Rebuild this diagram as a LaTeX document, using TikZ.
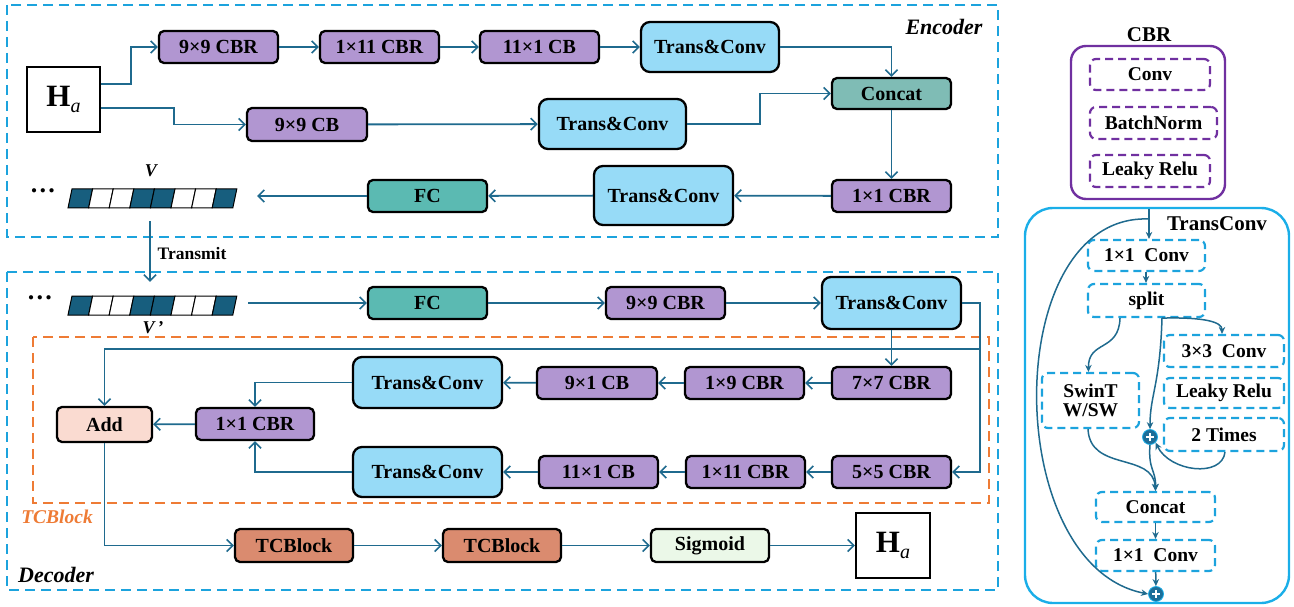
\documentclass[tikz,border=0pt]{standalone}
\usepackage{fontspec}
\setmainfont{Liberation Serif}
\usetikzlibrary{arrows.meta,calc}
\definecolor{lc}{HTML}{1F6A8E}
\definecolor{cpurple}{HTML}{B196D1}
\definecolor{cblue}{HTML}{97DBF7}
\definecolor{cconcat}{HTML}{7FBCB5}
\definecolor{cfc}{HTML}{5BBAB2}
\definecolor{cadd}{HTML}{FADBD1}
\definecolor{ctcb}{HTML}{DA8B6F}
\definecolor{csig}{HTML}{EBF8E8}
\definecolor{cdash}{HTML}{1CA3DD}
\definecolor{corange}{HTML}{EE7B35}
\definecolor{vd}{HTML}{175E7E}
\definecolor{cpur}{HTML}{7030A0}
\definecolor{cpanel}{HTML}{1AAEE8}
\definecolor{pc}{HTML}{1C6E99}
\begin{document}
\begin{tikzpicture}[x=1pt,y=-1pt,
  box/.style={draw=black, line width=2.3pt, rounded corners=5pt, inner sep=0pt,
    font=\bfseries\fontsize{20}{22}\selectfont},
  cbr/.style={box, fill=cpurple, minimum width=119, minimum height=32},
  tcv/.style={box, fill=cblue, rounded corners=9pt},
  arr/.style={draw=lc, line width=1.8pt, -{Straight Barb[length=6pt,width=12pt,line width=1.6pt]}},
  sarr/.style={draw=lc, line width=1.5pt, -{Stealth[length=7pt,width=6.5pt]}},
  bdash/.style={draw=cdash, line width=2.4pt, dash pattern=on 10pt off 6pt},
  odash/.style={draw=corange, line width=2.4pt, dash pattern=on 10pt off 6pt},
  dbox/.style={draw=cdash, line width=2.2pt, dash pattern=on 8pt off 5pt, rounded corners=6pt,
    inner sep=0pt, font=\bfseries\fontsize{19.5}{21}\selectfont},
  pbox/.style={draw=cpur, line width=2.2pt, dash pattern=on 8pt off 5pt, rounded corners=6pt,
    inner sep=0pt, font=\bfseries\fontsize{19.5}{21}\selectfont},
  plus/.style={circle, fill=pc, draw=cpanel, line width=0.8pt, minimum size=15, inner sep=0pt,
    path picture={\draw[white,line width=1.5pt]
      ($(path picture bounding box.center)+(-4,0)$) -- ($(path picture bounding box.center)+(4,0)$)
      ($(path picture bounding box.center)+(0,-4)$) -- ($(path picture bounding box.center)+(0,4)$);}},
  lbl/.style={font=\bfseries\itshape\fontsize{22}{24}\selectfont}
]
\useasboundingbox (0,0) rectangle (1294,607);

% ===== Encoder frame =====
\draw[bdash] (7,5) rectangle (998,237);
\node[lbl] (enclbl) at (944,27) {Encoder};

\node[draw=black, line width=2.3pt, minimum width=73, minimum height=65, inner sep=0pt] (Ha) at (63.5,99.5)
  {{\fontsize{31}{32}\selectfont\textbf{H}}\raisebox{-6pt}{\fontsize{20}{20}\selectfont\textit{a}}};

\node[cbr] (c99) at (218.5,47) {9×9 CBR};
\node[cbr] (c111) at (379.5,47) {1×11 CBR};
\node[cbr] (cb111) at (539.5,47) {11×1 CB};
\node[tcv, minimum width=138, minimum height=50] (tc1) at (710,47) {Trans\&Conv};
\node[box, fill=cconcat, minimum width=119, minimum height=31] (concat) at (891.5,93.5) {Concat};
\node[cbr, minimum width=120, minimum height=33] (cb99) at (307,124.5) {9×9 CB};
\node[tcv, minimum width=147, minimum height=50] (tc2) at (612.5,124) {Trans\&Conv};
\node[cbr] (cbr11) at (891.5,196) {1×1 CBR};
\node[tcv, minimum width=139, minimum height=59] (tc3) at (663.5,195.5) {Trans\&Conv};
\node[box, fill=cfc, minimum width=119, minimum height=32] (fc) at (427.5,196) {FC};

% vector V
\foreach \i/\c in {0/vd,1/white,2/white,3/vd,4/vd,5/white,6/white,7/vd}{
  \draw[black, line width=1pt, fill=\c] ({68+\i*20.6},208) -- ({68+(\i+1)*20.6},208)
    -- ({72+(\i+1)*20.6},189) -- ({72+\i*20.6},189) -- cycle;
}
\node[minimum width=169, minimum height=19, inner sep=0pt] (vec) at (152.5,198.5) {};
\node[font=\bfseries\fontsize{26}{26}\selectfont] (dots1) at (43,191) {…};
\node[font=\bfseries\itshape\fontsize{18}{19}\selectfont] (vlbl) at (151,171) {V};

\draw[arr] ([yshift=15.5pt]Ha.east) -- ++(30,0) |- (c99.west);
\draw[arr] ([yshift=-8.5pt]Ha.east) -- ++(73,0) |- (cb99.west);
\draw[arr] (c99) -- (c111);
\draw[arr] (c111) -- (cb111);
\draw[arr] (cb111) -- (tc1);
\draw[arr] (tc1.east) -| (concat.north);
\draw[arr] (cb99) -- (tc2);
\draw[arr] (tc2.east) -- ++(73,0) |- (concat.west);
\draw[arr] (concat) -- (cbr11);
\draw[arr] (cbr11) -- (tc3);
\draw[arr] (tc3) -- (fc);
\draw[arr] (fc.west) -- ([xshift=20pt]vec.east |- fc.west);

% ===== Transmit =====
\node[font=\bfseries\fontsize{17.5}{18}\selectfont] (tr) at (192,254) {Transmit};

% ===== Decoder frame =====
\draw[bdash] (7,272) rectangle (998,590);
\node[lbl] (declbl) at (56,575) {Decoder};
\draw[odash] (33,337) rectangle (989,503);
\node[font=\bfseries\itshape\fontsize{19.5}{21}\selectfont, text=corange] (tcblbl) at (57,517) {TCBlock};

\foreach \i/\c in {0/vd,1/white,2/white,3/vd,4/vd,5/white,6/white,7/vd}{
  \draw[black, line width=1pt, fill=\c] ({68+\i*20.6},315) -- ({68+(\i+1)*20.6},315)
    -- ({72+(\i+1)*20.6},296) -- ({72+\i*20.6},296) -- cycle;
}
\node[minimum width=169, minimum height=19, inner sep=0pt] (vec2) at (152.5,305.5) {};
\node[font=\bfseries\fontsize{26}{26}\selectfont] (dots2) at (40,298) {…};
\node[font=\bfseries\itshape\fontsize{18}{19}\selectfont] (v2lbl) at (153,328) {V\,’};

\draw[arr] ([xshift=-2.5pt,yshift=-13pt]vec.south) -- ([xshift=-2.5pt,yshift=14pt]vec2.north);

\node[box, fill=cfc, minimum width=119, minimum height=32] (fc2) at (427.5,303) {FC};
\node[cbr] (c99d) at (665.5,303) {9×9 CBR};
\node[tcv, minimum width=139, minimum height=52] (tcd) at (891.5,303) {Trans\&Conv};
\node[cbr] (c77) at (891.5,383) {7×7 CBR};
\node[cbr] (c19) at (744.5,383) {1×9 CBR};
\node[cbr, minimum width=120] (c91) at (597,383) {9×1 CB};
\node[tcv, minimum width=149, minimum height=51] (tcr1) at (427.5,382.5) {Trans\&Conv};
\node[cbr] (c55) at (891.5,472) {5×5 CBR};
\node[cbr] (c111d) at (745.5,472) {1×11 CBR};
\node[cbr] (cb111d) at (598.5,472) {11×1 CB};
\node[tcv, minimum width=149, minimum height=50] (tcr2) at (427.5,472) {Trans\&Conv};
\node[cbr, minimum width=118] (c11) at (255,424) {1×1 CBR};
\node[box, fill=cadd, minimum width=95, minimum height=35] (add) at (104.5,424.5) {Add};
\node[box, fill=ctcb, minimum width=118, minimum height=33] (tcb1) at (294,545.5) {TCBlock};
\node[box, fill=ctcb, minimum width=118, minimum height=33] (tcb2) at (502,545.5) {TCBlock};
\node[box, fill=csig, minimum width=118, minimum height=33] (sig) at (710,545.5) {Sigmoid};
\node[draw=black, line width=2.3pt, minimum width=74, minimum height=65, inner sep=0pt] (hout) at (893,545.5)
  {{\fontsize{31}{32}\selectfont\textbf{H}}\raisebox{-6pt}{\fontsize{20}{20}\selectfont\textit{a}}};

\draw[arr] ([xshift=11pt]vec2.east |- fc2.west) -- (fc2.west);
\draw[arr] (fc2) -- (c99d);
\draw[arr] (c99d) -- (tcd);
\coordinate (J) at (980,349);
\draw[arr] (tcd.east) -| (J) |- (c55.east);
\draw[arr] (J) -| (add.north);
\draw[arr] (tcd) -- (c77);
\draw[arr] (c77) -- (c19);
\draw[arr] (c19) -- (c91);
\draw[arr] (c91) -- (tcr1);
\draw[arr] (c55) -- (c111d);
\draw[arr] (c111d) -- (cb111d);
\draw[arr] (cb111d) -- (tcr2);
\draw[arr] (tcr1.west) -| (c11.north);
\draw[arr] (tcr2.west) -| (c11.south);
\draw[arr] (c11) -- (add);
\draw[arr] (add.south) |- (tcb1.west);
\draw[arr] (tcb1) -- (tcb2);
\draw[arr] (tcb2) -- (sig);
\draw[arr] (sig) -- (hout);

% ===== CBR panel =====
\node[font=\bfseries\fontsize{21}{22}\selectfont] (cbrt) at (1149,35) {CBR};
\draw[draw=cpur, line width=2.4pt, rounded corners=15pt] (1071,46) rectangle (1225,199);
\node[pbox, minimum width=120, minimum height=31] (pconv) at (1150,74.5) {Conv};
\node[pbox, minimum width=127, minimum height=32] (pbn) at (1153.5,123) {BatchNorm};
\node[pbox, minimum width=120, minimum height=32] (plr) at (1150,171) {Leaky Relu};

% ===== TransConv panel =====
\draw[draw=cpanel, line width=2.4pt, rounded corners=28pt] (1025,208) rectangle (1289,603);
\node[font=\bfseries\fontsize{21}{22}\selectfont] (tct) at (1217,224) {TransConv};
\node[dbox, minimum width=117, minimum height=31] (k1) at (1146.5,255.5) {1×1\ \ Conv};
\node[dbox, minimum width=117, minimum height=33] (split) at (1146.5,300.5) {split};
\node[dbox, minimum width=120, minimum height=32] (c33) at (1224,351) {3×3\ \ Conv};
\node[dbox, minimum width=120, minimum height=30] (lr) at (1224,393) {Leaky Relu};
\node[dbox, minimum width=120, minimum height=33] (t2) at (1224,434.5) {2 Times};
\node[dbox, minimum width=97, minimum height=55, align=center] (swin) at (1090.5,400.5) {SwinT\\[-2pt]W/SW};
\node[dbox, minimum width=119, minimum height=30] (cc) at (1155.5,507) {Concat};
\node[dbox, minimum width=119, minimum height=31] (k2) at (1155.5,555.5) {1×1\ \ Conv};
\node[plus] (p1) at (1150,437) {};
\node[plus] (p2) at (1156,594) {};

\coordinate (tin) at (1149,209);
\coordinate (tsp) at (1149,219);
\draw[sarr] (tin) -- (tin |- k1.north);
\draw[sarr] (tsp) .. controls (1000,213) and (1000,565) .. (p2.west);
\draw[sarr] ([xshift=-0.5pt]k1.south) -- ([xshift=-0.5pt]split.north);
\draw[sarr] ([xshift=-26.5pt]split.south) .. controls (1119,352) and (1088,340) .. ([xshift=-2pt]swin.north);
\draw[sarr] ([xshift=15.5pt]split.south) .. controls (1205,317) and (1222,322) .. ([xshift=-2pt]c33.north);
\draw[sarr] ([xshift=15.5pt]split.south) .. controls (1160,385) and (1150,395) .. (p1.north);
\draw[sarr] ([xshift=1pt]t2.south) .. controls (1222,478) and (1170,472) .. (p1.south east);
\draw[sarr] ([xshift=-2.5pt]swin.south) .. controls (1090,472) and (1153,452) .. (cc.north);
\draw[sarr] (p1.south) .. controls (1148,470) and (1156,470) .. (cc.north);
\draw[sarr] (cc) -- (k2);
\draw[sarr] (k2) -- (p2);
\end{tikzpicture}
\end{document}
